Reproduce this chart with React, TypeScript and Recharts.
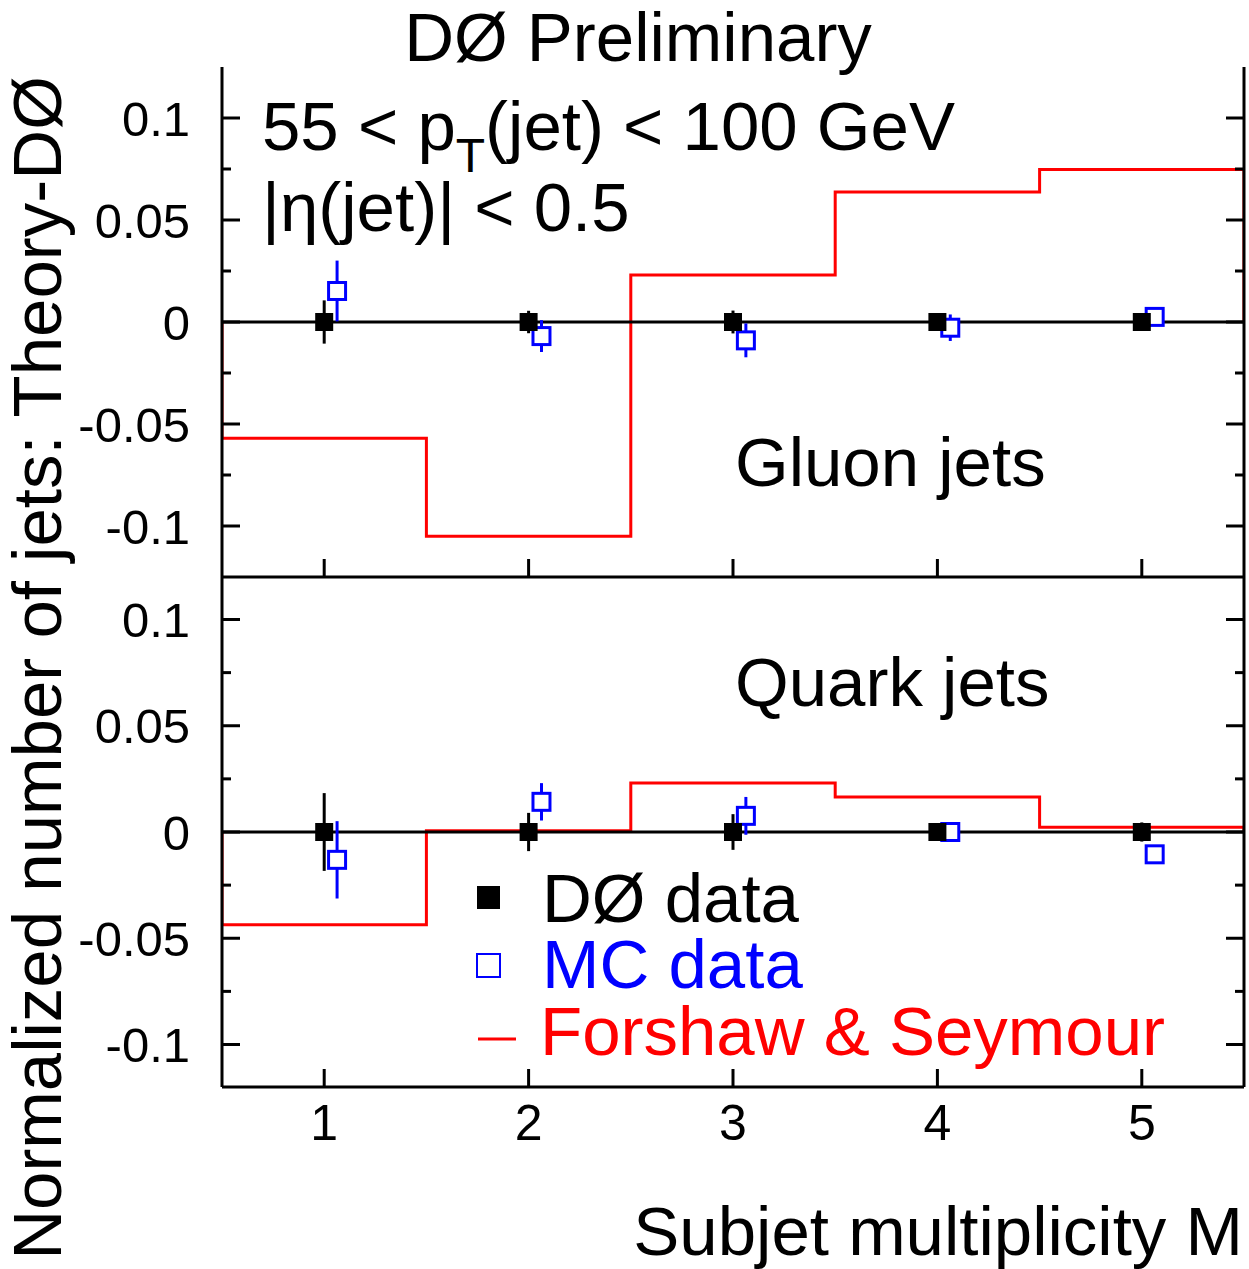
import {FC, useMemo} from "react";
import {ComposedChart, Line, Scatter, XAxis, YAxis, ErrorBar, ReferenceLine} from "recharts";

const FONT = "'Liberation Sans', Arial, Helvetica, sans-serif";

// subjet multiplicity bins
const M_VALUES = [1, 2, 3, 4, 5];
const BIN_EDGES = [0.5, 1.5, 2.5, 3.5, 4.5, 5.5];
const X_TICKS = [1, 2, 3, 4, 5];
const Y_TICKS = [-0.1, -0.075, -0.05, -0.025, 0, 0.025, 0.05, 0.075, 0.1];
const Y_LABELS: Record<string, string> = {"-0.1": "-0.1", "-0.05": "-0.05", "0": "0", "0.05": "0.05", "0.1": "0.1"};

// gluon jets (top panel)
const GLUON_D0 = [0, 0, 0, 0, 0];
const GLUON_D0_ERR = [0.0106, 0.0055, 0.0056, 0.003, 0.002];
const GLUON_MC = [0.0152, -0.0069, -0.009, -0.0028, 0.0025];
const GLUON_MC_ERR = [0.0149, 0.0078, 0.0083, 0.0065, 0.002];
const GLUON_FS = [-0.057, -0.105, 0.023, 0.0637, 0.0748];

// quark jets (bottom panel)
const QUARK_D0 = [0, 0, 0, 0, 0];
const QUARK_D0_ERR = [0.0183, 0.009, 0.0084, 0.003, 0.0045];
const QUARK_MC = [-0.0131, 0.0142, 0.0076, 0.0, -0.0105];
const QUARK_MC_ERR = [0.0182, 0.0088, 0.0089, 0.003, 0.003];
const QUARK_FS = [-0.0437, 0.0006, 0.0231, 0.0165, 0.0022];

const MC_SHIFT = 0.063;

const isMajor = (v: number) => Math.abs(v * 20 - Math.round(v * 20)) < 1e-6;

const LeftTick = (props: any) => {
  const {x, y, payload} = props;
  const major = isMajor(payload.value);
  const label = Y_LABELS[String(Math.round(payload.value * 1000) / 1000)];
  return (
    <g>
      <line x1={x} x2={x + (major ? 18 : 9)} y1={y} y2={y} stroke="#000" strokeWidth={3}/>
      {major && (
        <text x={x - 32} y={y} dy="0.36em" textAnchor="end" fontSize={49} fontFamily={FONT} fill="#000">
          {label}
        </text>
      )}
    </g>
  );
};

const RightTick = (props: any) => {
  const {x, y, payload} = props;
  const major = isMajor(payload.value);
  return <line x1={x} x2={x - (major ? 18 : 9)} y1={y} y2={y} stroke="#000" strokeWidth={3}/>;
};

const makeXTick = (showLabel: boolean) => (props: any) => {
  const {x, y, payload} = props;
  return (
    <g>
      <line x1={x} x2={x} y1={y} y2={y - 18} stroke="#000" strokeWidth={3}/>
      {showLabel && (
        <text x={x} y={y + 53} textAnchor="middle" fontSize={50} fontFamily={FONT} fill="#000">
          {payload.value}
        </text>
      )}
    </g>
  );
};

const D0Square = (props: any) => {
  const {cx, cy} = props;
  return <rect x={cx - 9} y={cy - 9} width={18} height={18} fill="#000"/>;
};

const McSquare = (props: any) => {
  const {cx, cy} = props;
  return <rect x={cx - 8.5} y={cy - 8.5} width={17} height={17} fill="#fff" stroke="#0000ff" strokeWidth={3}/>;
};

interface IPanelProps {
  d0: number[];
  d0Err: number[];
  mc: number[];
  mcErr: number[];
  fs: number[];
  yMax: number;
  height: number;
  marginTop: number;
  xAxisHeight: number;
  showXLabels: boolean;
}

const Panel: FC<IPanelProps> = (props) => {
  const {d0, d0Err, mc, mcErr, fs, yMax, height, marginTop, xAxisHeight, showXLabels} = props;

  const d0Data = useMemo(() => M_VALUES.map((m, i) => ({x: m, y: d0[i], err: d0Err[i]})), [d0, d0Err]);
  const mcData = useMemo(() => M_VALUES.map((m, i) => ({x: m + MC_SHIFT, y: mc[i], err: mcErr[i]})), [mc, mcErr]);
  const fsData = useMemo(() => {
    const pts = [{x: BIN_EDGES[0], y: 0}];
    fs.forEach((v, i) => {
      pts.push({x: BIN_EDGES[i], y: v});
      pts.push({x: BIN_EDGES[i + 1], y: v});
    });
    pts.push({x: BIN_EDGES[BIN_EDGES.length - 1], y: 0});
    return pts;
  }, [fs]);

  const axisLine = {stroke: "#000", strokeWidth: 3};

  return (
    <ComposedChart width={1249} height={height} margin={{top: marginTop, right: 0, bottom: 0, left: 162}}>
      <XAxis xAxisId="b" type="number" dataKey="x" domain={[0.5, 5.5]} ticks={X_TICKS} interval={0}
             allowDataOverflow axisLine={axisLine} tickLine={false} tickSize={0} tickMargin={0}
             height={xAxisHeight} tick={makeXTick(showXLabels)}/>
      <XAxis xAxisId="t" orientation="top" type="number" dataKey="x" domain={[0.5, 5.5]} allowDataOverflow
             height={0} tick={false} tickLine={false} axisLine={axisLine}/>
      <YAxis yAxisId="l" type="number" domain={[-yMax, yMax]} ticks={Y_TICKS} interval={0} allowDataOverflow
             width={60} axisLine={axisLine} tickLine={false} tickSize={0} tickMargin={0} tick={LeftTick}/>
      <YAxis yAxisId="r" orientation="right" type="number" domain={[-yMax, yMax]} ticks={Y_TICKS} interval={0}
             allowDataOverflow width={5} axisLine={axisLine} tickLine={false} tickSize={0} tickMargin={0}
             tick={RightTick}/>
      <Line xAxisId="b" yAxisId="l" data={fsData} dataKey="y" type="linear" stroke="#ff0000" strokeWidth={3}
            dot={false} activeDot={false} isAnimationActive={false}/>
      <ReferenceLine xAxisId="b" yAxisId="l" y={0} stroke="#000" strokeWidth={3}/>
      <Scatter xAxisId="b" yAxisId="l" data={mcData} dataKey="y" shape={McSquare} isAnimationActive={false}>
        <ErrorBar dataKey="err" direction="y" width={0} stroke="#0000ff" strokeWidth={3}/>
      </Scatter>
      <Scatter xAxisId="b" yAxisId="l" data={d0Data} dataKey="y" shape={D0Square} isAnimationActive={false}>
        <ErrorBar dataKey="err" direction="y" width={0} stroke="#000" strokeWidth={3}/>
      </Scatter>
    </ComposedChart>
  );
};

const App: FC = () => {
  return (
    <div style={{position: "absolute", left: 0, top: 0, width: 1249, height: 1269, background: "#fff"}}>
      <div style={{position: "absolute", left: 0, top: 0}}>
        <Panel d0={GLUON_D0} d0Err={GLUON_D0_ERR} mc={GLUON_MC} mcErr={GLUON_MC_ERR} fs={GLUON_FS}
               yMax={0.125} height={600} marginTop={67} xAxisHeight={23} showXLabels={false}/>
      </div>
      <div style={{position: "absolute", left: 0, top: 560}}>
        <Panel d0={QUARK_D0} d0Err={QUARK_D0_ERR} mc={QUARK_MC} mcErr={QUARK_MC_ERR} fs={QUARK_FS}
               yMax={0.12} height={709} marginTop={17} xAxisHeight={182} showXLabels={true}/>
      </div>
      <svg width={1249} height={1269} style={{position: "absolute", left: 0, top: 0, pointerEvents: "none"}}
           fontFamily={FONT} fontSize={69}>
        <text x={638} y={61} textAnchor="middle" fill="#000">DØ Preliminary</text>
        <text x={262} y={150} fill="#000">
          55 &lt; p<tspan fontSize={48} dy={22}>T</tspan><tspan dy={-22}>(jet) &lt; 100 GeV</tspan>
        </text>
        <text x={262} y={231} fill="#000">|η(jet)| &lt; 0.5</text>
        <text x={735} y={486} fill="#000">Gluon jets</text>
        <text x={735} y={706} fill="#000">Quark jets</text>

        <rect x={477} y={886} width={23} height={23} fill="#000"/>
        <text x={542} y={922} fill="#000">DØ data</text>
        <rect x={477} y={954} width={23} height={23} fill="#fff" stroke="#0000ff" strokeWidth={2}/>
        <text x={542} y={988} fill="#0000ff">MC data</text>
        <line x1={478} x2={516} y1={1039} y2={1039} stroke="#ff0000" strokeWidth={3}/>
        <text x={540} y={1055} fill="#ff0000">Forshaw &amp; Seymour</text>

        <text x={1243} y={1255} textAnchor="end" fill="#000">Subjet multiplicity M</text>
        <text transform="translate(61, 668) rotate(-90)" textAnchor="middle" fill="#000">
          Normalized number of jets: Theory-DØ
        </text>
      </svg>
    </div>
  );
};

export default App;
